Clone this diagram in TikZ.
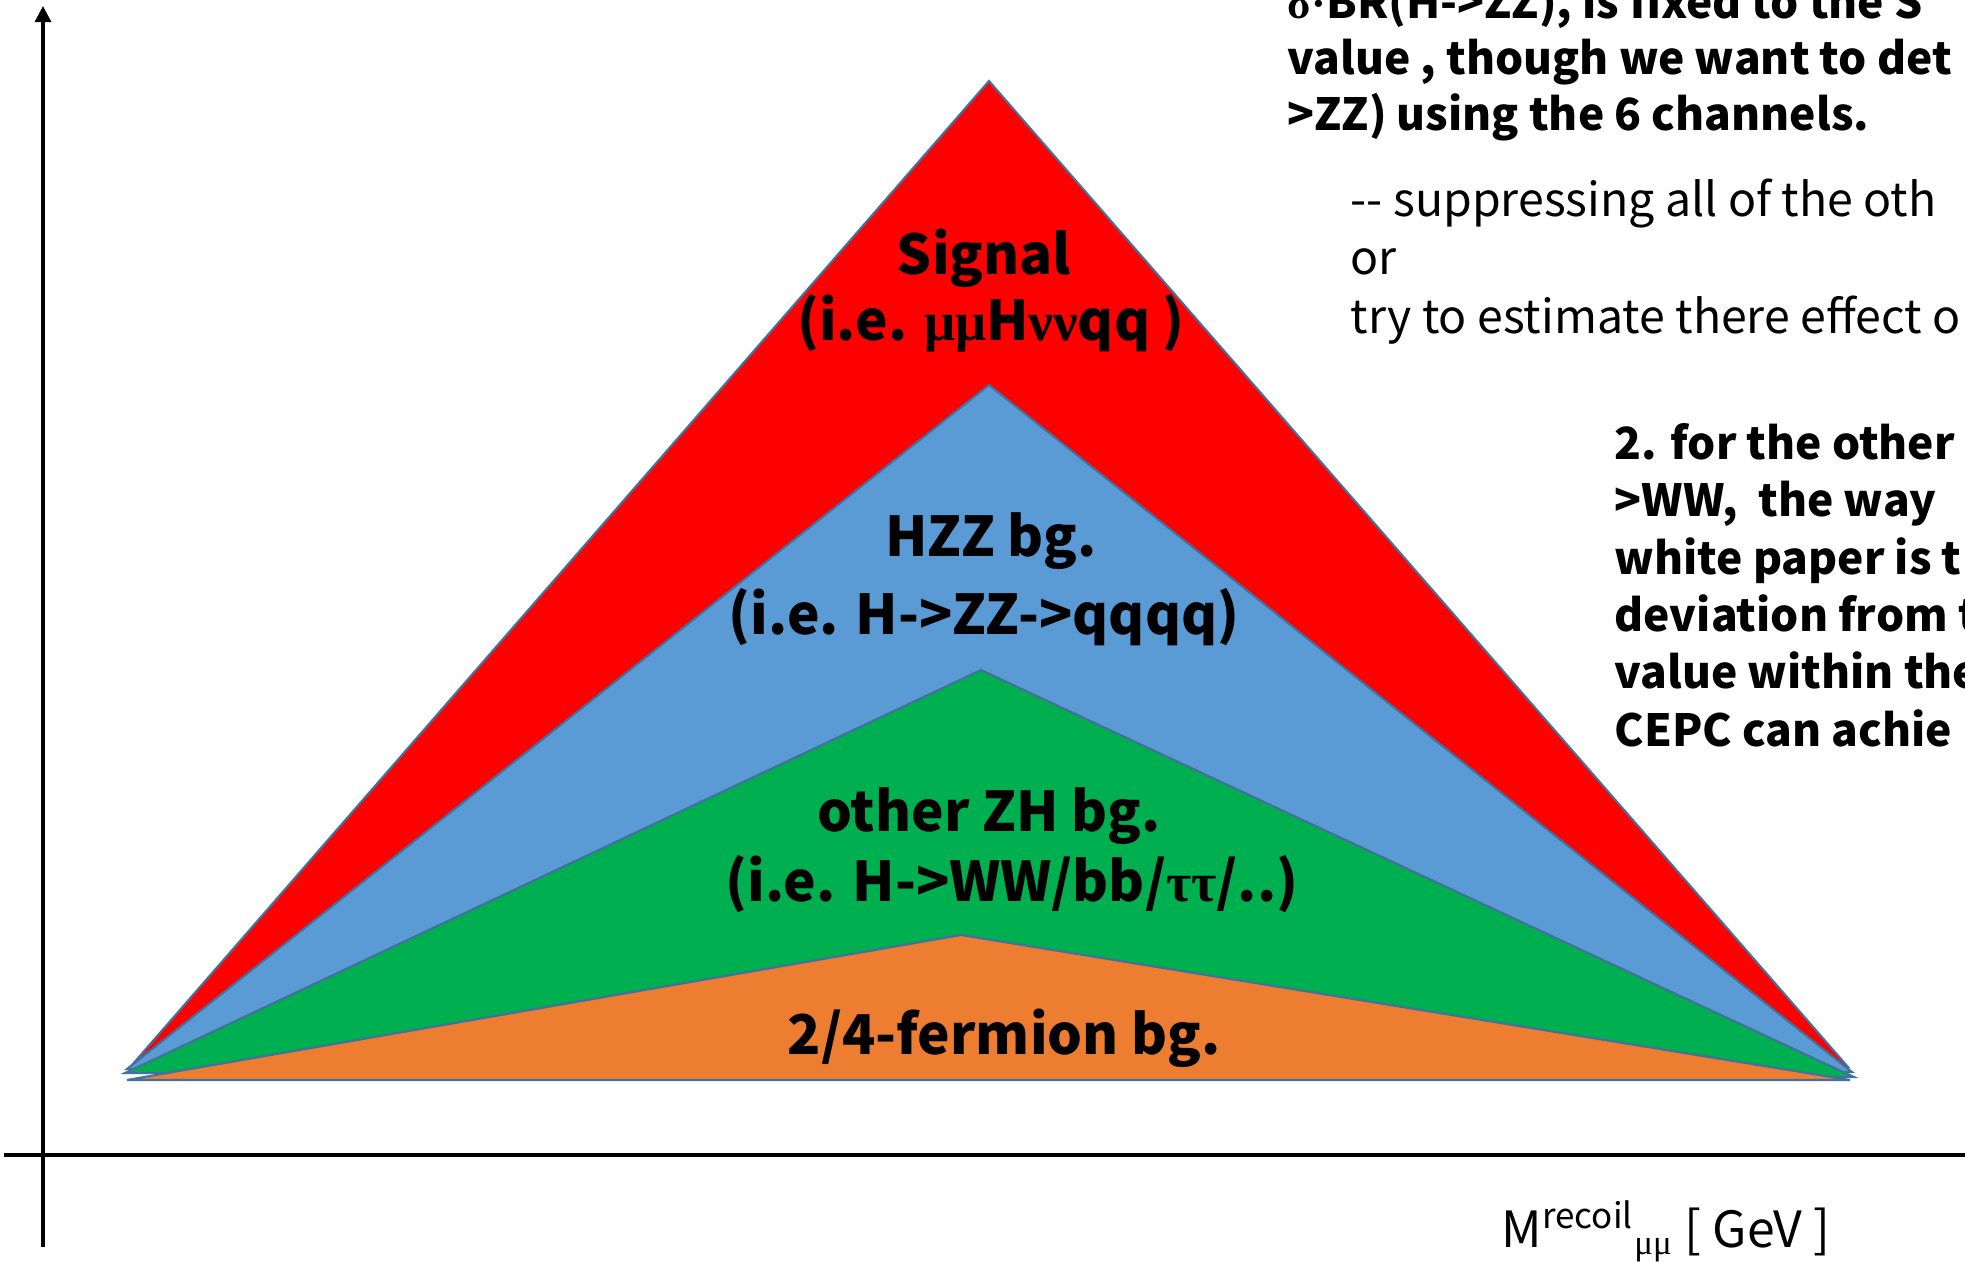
\documentclass[tikz,border=0pt]{standalone}
\usepackage{fontspec}
\setmainfont{Noto Sans CJK JP}
\newfontfamily\grk{Liberation Serif}
\usetikzlibrary{arrows.meta}
\definecolor{sigred}{HTML}{FF0000}
\definecolor{hzzblue}{HTML}{5B9BD5}
\definecolor{zhgreen}{HTML}{00B050}
\definecolor{fermorange}{HTML}{ED7D31}
\definecolor{edgeblue}{HTML}{41719C}

\begin{document}
\begin{tikzpicture}[x=0.01cm, y=-0.01cm, inner sep=0pt,
    layer/.style={draw=edgeblue, line width=0.6pt},
    axis/.style={line width=0.9pt},
    lbl/.style={anchor=base, font=\fontsize{15.6}{18}\selectfont\bfseries},
    note/.style={anchor=base west, align=left, font=\fontsize{12.6}{16.3}\selectfont\bfseries},
    thin/.style={anchor=base west, align=left, font=\fontsize{13.2}{16.6}\selectfont}]
    \useasboundingbox (0,0) rectangle (1965,1262);
    \clip (0,0) rectangle (1965,1262);
    \foreach \c/\lx/\ly/\ax/\ay/\rx/\ry in {sigred/132/1065/989/81/1848/1067, hzzblue/127/1069/989/385/1852/1072, zhgreen/125/1073/981/670/1854/1077, fermorange/127/1080/961/935/1850/1080} {
        \filldraw[layer, fill=\c] (\lx,\ly) -- (\ax,\ay) -- (\rx,\ry) -- cycle;
    }
    \coordinate (ybot) at (43,1247);
    \coordinate (ytop) at (43,6);
    \coordinate (xleft) at (4,1155);
    \coordinate (xright) at (1965,1155);
    \draw[axis, -{Triangle[length=4.6pt, width=4.6pt]}] (ybot) -- (ytop);
    \draw[axis] (xleft) -- (xright);
    \node[lbl] (sig1) at (984,274) {Signal};
    \node[lbl] (sig2) at (991,340) {(i.e. {\grk μμ}H{\grk νν}qq )};
    \node[lbl] (hzz1) at (991,556) {HZZ bg.};
    \node[lbl] (hzz2) at (984,634) {(i.e. H->ZZ->qqqq)};
    \node[lbl] (zh1) at (989,831) {other ZH bg.};
    \node[lbl] (zh2) at (1012,901) {(i.e. H->WW/bb/{\grk ττ}/..)};
    \node[lbl] (ferm) at (1004,1054) {2/4-fermion bg.};
    \node[note, font=\fontsize{12.6}{15.9}\selectfont\bfseries] (fixed) at (1287,130) {{\grk σ}{\grk ·}BR(H->ZZ), is fixed to the S\\value , though we want to det\\>ZZ) using the 6 channels.};
    \node[thin] (supp) at (1350,333) {-{}- suppressing all of the oth\\or\\try to estimate there effect o};
    \node[note] (other) at (1614,746) {2. for the other\\>WW,\ \ the way\\white paper is t\\deviation from t\\value within the\\CEPC can achie};
    \node[anchor=base west, font=\fontsize{14.2}{16}\selectfont] (mrec) at (1501,1247) {M\textsuperscript{recoil}\textsubscript{\grk μμ} [ GeV ]};
\end{tikzpicture}
\end{document}
